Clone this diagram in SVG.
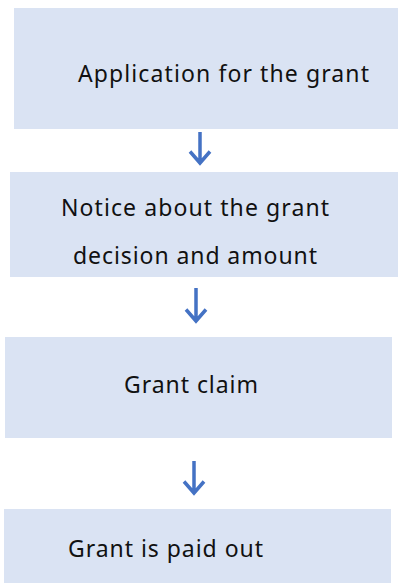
<svg xmlns="http://www.w3.org/2000/svg" width="398" height="583" viewBox="0 0 398 583">
<defs>
<style>
.box{fill:#DAE3F3;}
.lbl{font-family:"Noto Sans","Liberation Sans",sans-serif;font-size:23px;fill:#111;}
.arr{stroke:#4472C4;stroke-width:3.5;fill:none;stroke-linecap:butt;stroke-linejoin:miter;}
</style>
</defs>
<g id="n1"><rect class="box" x="14" y="8" width="384" height="121"/><text class="lbl" x="78" y="82" textLength="291">Application for the grant</text></g>
<g id="n2"><rect class="box" x="10" y="172" width="388" height="105"/><text class="lbl" x="61" y="216" textLength="268">Notice about the grant</text><text class="lbl" x="73" y="264" textLength="244">decision and amount</text></g>
<g id="n3"><rect class="box" x="5" y="337" width="387" height="101"/><text class="lbl" x="124" y="393" textLength="134">Grant claim</text></g>
<g id="n4"><rect class="box" x="4" y="509" width="387" height="74"/><text class="lbl" x="68" y="557" textLength="195">Grant is paid out</text></g>
<g id="connectors">
<path class="arr" d="M200 132V162M190 151.5L200 163L210 151.5"/>
<path class="arr" d="M196 288V320M186 309.5L196 321L206 309.5"/>
<path class="arr" d="M194 461V492M184 481.5L194 493L204 481.5"/>
</g>
</svg>
